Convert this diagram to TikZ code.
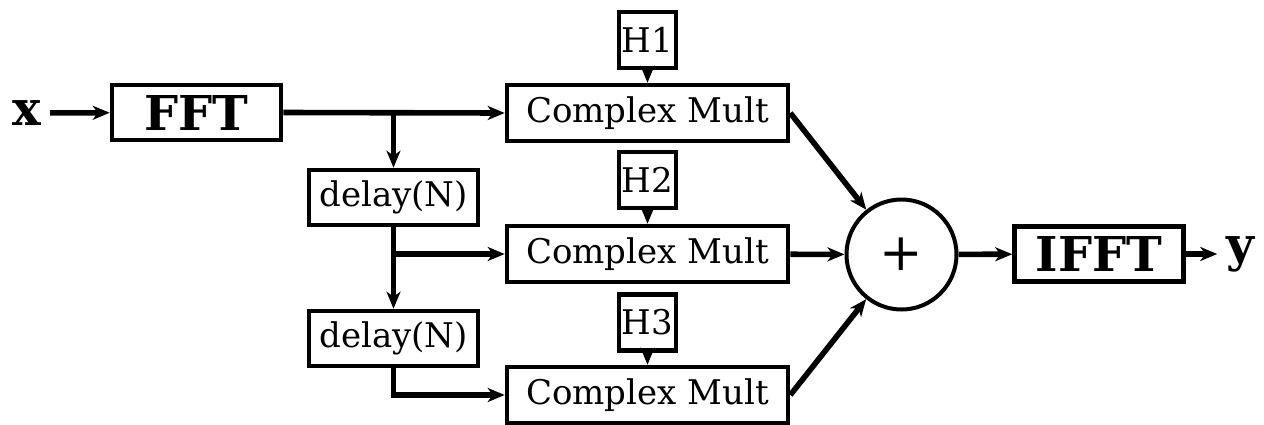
\documentclass[tikz,border=0pt]{standalone}
\usepackage{fontspec}
\setmainfont{DejaVu Serif}
\usetikzlibrary{arrows.meta}
\begin{document}
\begin{tikzpicture}[x=0.5pt,y=-0.5pt, line width=2.8pt,
  >={Stealth[length=8.5pt,width=7pt,inset=2.5pt]},
  blk/.style={draw, line width=2.3pt, inner sep=0pt, font=\fontsize{17}{20}\selectfont},
  cmbox/.style={blk, minimum width=140.5pt, minimum height=28pt},
  hbox/.style={blk, minimum width=28.5pt, minimum height=28pt},
  dlbox/.style={blk, minimum width=84.5pt, minimum height=27.5pt},
  bigbox/.style={draw, line width=2.3pt, inner sep=0pt, font=\fontsize{24}{28}\selectfont\bfseries, minimum width=84.5pt, minimum height=27.5pt},
  lbl/.style={inner sep=3pt, font=\fontsize{24}{28}\selectfont\bfseries},
  sumc/.style={draw, circle, line width=2pt, inner sep=0pt, minimum size=55pt, font=\fontsize{26}{30}\selectfont}]
\useasboundingbox (0,0) rectangle (1264,424);
\node[lbl] (xl) at (27,113) {x};
\node[bigbox] (fft) at (196.5,112.5) {FFT};
\node[cmbox] (cm1) at (647.5,113) {Complex Mult};
\node[cmbox] (cm2) at (647.5,254) {Complex Mult};
\node[cmbox] (cm3) at (647.5,395) {Complex Mult};
\node[hbox] (h1) at (647.5,40) {H1};
\node[hbox] (h2) at (647.5,180) {H2};
\node[hbox] (h3) at (647.5,322.5) {H3};
\node[dlbox] (d1) at (393.5,197.5) {delay(N)};
\node[dlbox] (d2) at (393.5,338.5) {delay(N)};
\node[sumc] (sum) at (901.5,254.5) {+};
\node[bigbox] (ifft) at (1099,254) {IFFT};
\node[lbl] (yl) at (1240,254) {y};
\draw[->] (xl) -- (fft);
\draw[->] (fft.east) -- (cm1.west);
\draw[->] (d1.north |- fft.east) -- (d1.north);
\draw[->] (d1.south) -- (d2.north);
\draw[->] (d1.south |- cm2.west) -- (cm2.west);
\draw[->] (d2.south) |- (cm3.west);
\draw[->] (h1) -- (cm1);
\draw[->] (h2) -- (cm2);
\draw[->] (h3) -- (cm3);
\draw[->] (cm1.east) -- (sum);
\draw[->] (cm2) -- (sum);
\draw[->] (cm3.east) -- (sum);
\draw[->] (sum) -- (ifft);
\draw[->] (ifft) -- (yl);
\end{tikzpicture}
\end{document}
